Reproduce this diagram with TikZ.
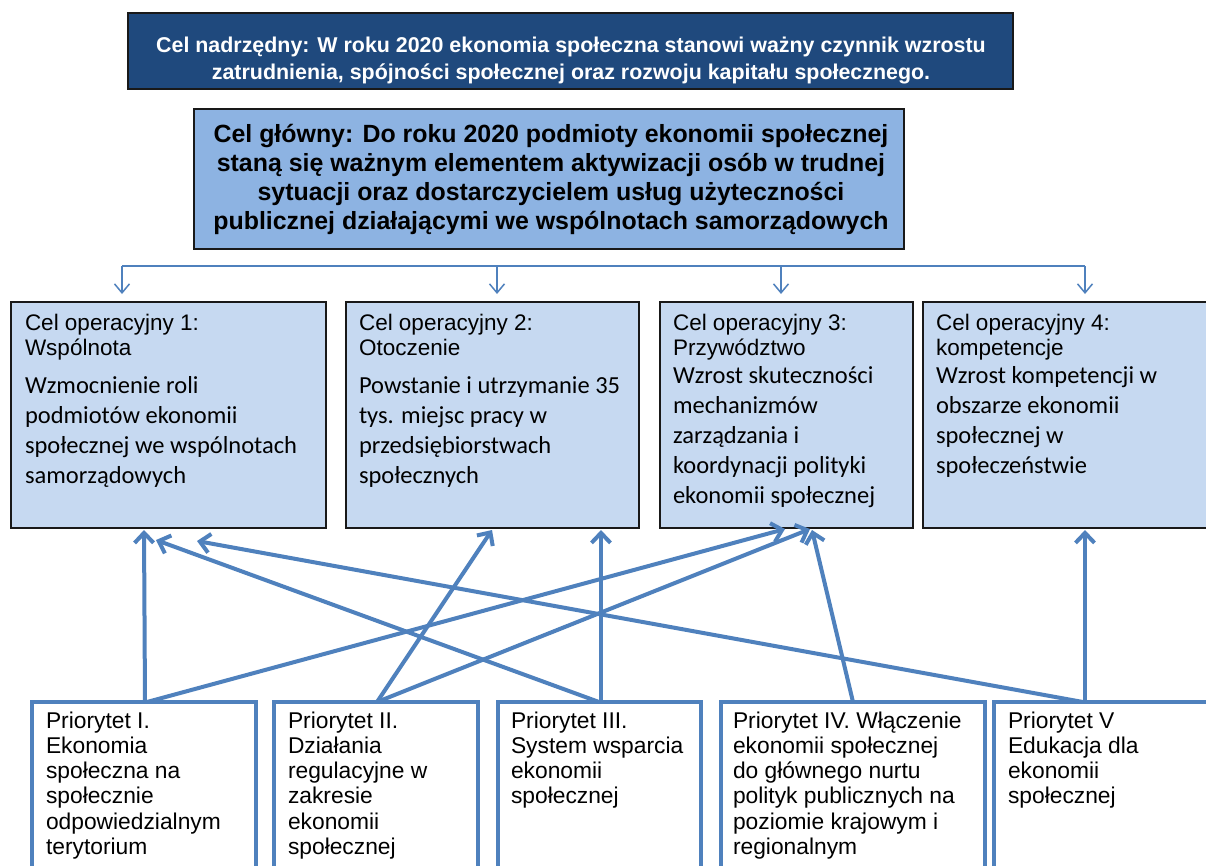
\documentclass[tikz,border=0pt]{standalone}
\usepackage{fontspec}
\usetikzlibrary{arrows.meta,calc}
\newfontfamily\topfont{Liberation Sans}
\newfontfamily\widefont{Liberation Sans}
\newfontfamily\bodyfont{Carlito}
\definecolor{topblue}{RGB}{31,73,125}
\definecolor{mainblue}{RGB}{141,179,226}
\definecolor{opblue}{RGB}{198,217,241}
\definecolor{lineblue}{RGB}{79,129,189}
\definecolor{edge}{RGB}{25,25,25}
\newcommand{\toptxt}[1]{\parbox[t]{880pt}{\centering\color{white}\topfont\bfseries\fontsize{21.4}{27}\selectfont #1}}
\newcommand{\maintxt}[1]{\parbox[t]{705pt}{\centering\widefont\bfseries\fontsize{24.9}{29.3}\selectfont #1}}
\newcommand{\optitle}[1]{\parbox[t]{300pt}{\raggedright\widefont\fontsize{22.5}{25}\selectfont #1}}
\newcommand{\opbody}[1]{\parbox[t]{300pt}{\raggedright\bodyfont\fontsize{24.5}{30}\selectfont #1}}
\newcommand{\prtxt}[1]{\parbox[t]{260pt}{\raggedright\widefont\fontsize{22.8}{25.3}\selectfont #1}}
\begin{document}
\begin{tikzpicture}[x=1pt,y=-1pt,
  every node/.style={inner sep=0pt, outer sep=0pt},
  box/.style={anchor=north west, rectangle},
  topbox/.style={box, draw=edge, line width=2pt, fill=topblue},
  mainbox/.style={box, draw=edge, line width=2pt, fill=mainblue},
  opbox/.style={box, draw=edge, line width=1.6pt, fill=opblue},
  prbox/.style={box, draw=lineblue, line width=3.5pt, fill=white},
  txt/.style={anchor=base west},
  ctxt/.style={anchor=base},
  thinline/.style={draw=lineblue, line width=1.5pt},
  thinarrow/.style={draw=lineblue, line width=1.5pt, -{Straight Barb[length=9pt,width=15pt]}},
  thickarrow/.style={draw=lineblue, line width=4pt, -{Straight Barb[length=10pt,width=19pt]}}
]
\useasboundingbox (0,0) rectangle (1206,865);
\fill[white] (0,0) rectangle (1206,865);
\clip (0,0) rectangle (1206,865);

% top boxes
\node[topbox, minimum width=885pt, minimum height=76pt] (top) at (128,13) {};
\node[ctxt] (toptext) at (571,37) {\toptxt{Cel nadrzędny: W roku 2020 ekonomia społeczna stanowi ważny czynnik wzrostu\\ zatrudnienia, spójności społecznej oraz rozwoju kapitału społecznego.}};

\node[mainbox, minimum width=710pt, minimum height=140pt] (main) at (194,109) {};
\node[ctxt] (maintext) at (551,142) {\maintxt{Cel główny: Do roku 2020 podmioty ekonomii społecznej\\ staną się ważnym elementem aktywizacji osób w trudnej\\ sytuacji oraz dostarczycielem usług użyteczności\\ publicznej działającymi we wspólnotach samorządowych}};

% operational goals
\node[opbox, minimum width=315pt, minimum height=226pt] (o1) at (11,302) {};
\node[opbox, minimum width=293pt, minimum height=226pt] (o2) at (346,302) {};
\node[opbox, minimum width=253pt, minimum height=226pt] (o3) at (660,302) {};
\node[opbox, minimum width=310pt, minimum height=226pt] (o4) at (923,302) {};

\node[txt] (o1t) at (25,330) {\optitle{Cel operacyjny 1:\\Wspólnota}};
\node[txt] (o1b) at (25,393) {\opbody{Wzmocnienie roli\\podmiotów ekonomii\\społecznej we wspólnotach\\samorządowych}};
\node[txt] (o2t) at (359,330) {\optitle{Cel operacyjny 2:\\Otoczenie}};
\node[txt] (o2b) at (359,393) {\opbody{Powstanie i utrzymanie 35\\tys. miejsc pracy w\\przedsiębiorstwach\\społecznych}};
\node[txt] (o3t) at (673,330) {\optitle{Cel operacyjny 3:\\Przywództwo}};
\node[txt] (o3b) at (673,383) {\opbody{Wzrost skuteczności\\mechanizmów\\zarządzania i\\koordynacji polityki\\ekonomii społecznej}};
\node[txt] (o4t) at (936,330) {\optitle{Cel operacyjny 4:\\kompetencje}};
\node[txt] (o4b) at (936,383) {\opbody{Wzrost kompetencji w\\obszarze ekonomii\\społecznej w\\społeczeństwie}};

% priorities
\node[prbox, minimum width=224pt, minimum height=200pt] (p1) at (32,702) {};
\node[prbox, minimum width=204pt, minimum height=200pt] (p2) at (274,702) {};
\node[prbox, minimum width=203pt, minimum height=200pt] (p3) at (498,702) {};
\node[prbox, minimum width=264pt, minimum height=200pt] (p4) at (721,702) {};
\node[prbox, minimum width=250pt, minimum height=200pt] (p5) at (994,702) {};

\node[txt] (p1t) at (46,728) {\prtxt{Priorytet I.\\Ekonomia\\społeczna na\\społecznie\\odpowiedzialnym\\terytorium}};
\node[txt] (p2t) at (288,728) {\prtxt{Priorytet II.\\Działania\\regulacyjne w\\zakresie\\ekonomii\\społecznej}};
\node[txt] (p3t) at (511,728) {\prtxt{Priorytet III.\\System wsparcia\\ekonomii\\społecznej}};
\node[txt] (p4t) at (733,728) {\prtxt{Priorytet IV. Włączenie\\ekonomii społecznej\\do głównego nurtu\\polityk publicznych na\\poziomie krajowym i\\regionalnym}};
\node[txt] (p5t) at (1008,728) {\prtxt{Priorytet V\\Edukacja dla\\ekonomii\\społecznej}};

% distribution line from the main goal
\coordinate (h1) at (122,266);
\coordinate (h2) at (497,266);
\coordinate (h3) at (781,266);
\coordinate (h4) at (1085,266);
\draw[thinline] (h1) -- (h4);
\draw[thinarrow] (h1) -- ([xshift=111pt,yshift=8pt]o1.north west);
\draw[thinarrow] (h2) -- ([xshift=151pt,yshift=8pt]o2.north west);
\draw[thinarrow] (h3) -- ([xshift=121pt,yshift=8pt]o3.north west);
\draw[thinarrow] (h4) -- ([xshift=162pt,yshift=8pt]o4.north west);

% priorities to operational goals
\draw[thickarrow] ([xshift=113pt]p1.north west) -- ([xshift=133pt,yshift=-2pt]o1.south west);
\draw[thickarrow] ([xshift=115pt]p1.north west) -- ([xshift=125pt,yshift=-1pt]o3.south west);
\draw[thickarrow] ([xshift=103pt]p2.north west) -- ([xshift=146pt,yshift=-2pt]o2.south west);
\draw[thickarrow] ([xshift=103pt]p2.north west) -- ([xshift=150pt,yshift=-1pt]o3.south west);
\draw[thickarrow] ([xshift=103pt]p3.north west) -- ([xshift=255pt,yshift=-2pt]o2.south west);
\draw[thickarrow] ([xshift=101pt]p3.north west) -- ([xshift=145pt,yshift=-12pt]o1.south west);
\draw[thickarrow] ([xshift=132pt]p4.north west) -- ([xshift=152pt,yshift=-2pt]o3.south west);
\draw[thickarrow] ([xshift=91pt]p5.north west) -- ([xshift=162pt,yshift=-2pt]o4.south west);
\draw[thickarrow] ([xshift=89pt]p5.north west) -- ([xshift=186pt,yshift=-13pt]o1.south west);
\end{tikzpicture}
\end{document}
